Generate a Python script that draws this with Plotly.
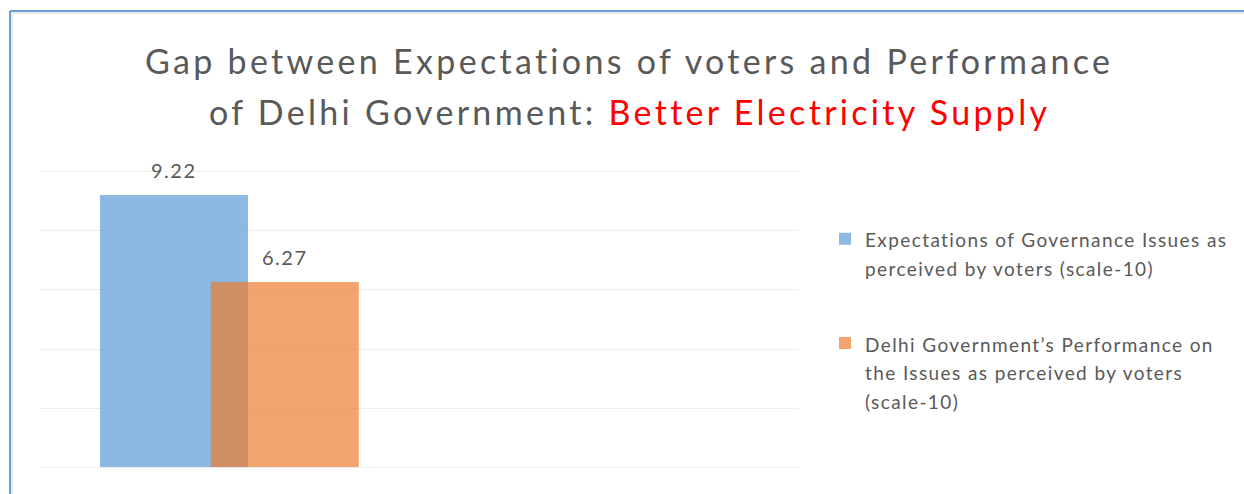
import plotly.graph_objects as go

# Scores on a 10-point scale
category = ["Better Electricity Supply"]
series_names = [
    ["Expectations of Governance Issues as", "perceived by voters (scale-10)"],
    ["Delhi Government’s Performance on", "the Issues as perceived by voters", "(scale-10)"],
]
expectations = [9.22]
performance = [6.27]
y_ticks = [0, 2, 4, 6, 8, 10]

W, H = 1244, 494
PL, PR, PT, PB = 40, 800, 172, 467  # value axis: 10 at PT, 0 at PB
Y_PAD = 0.1  # small headroom so the 0 and 10 gridlines are drawn
UNIT = (PB - PT) / 10.0

def px_x(p):
    return (p - PL) / (PR - PL)

def px_y(p):
    top = PT - Y_PAD * UNIT
    bottom = PB + Y_PAD * UNIT
    return (bottom - p) / (bottom - top)

def spaced(text, spacing, size=None):
    style = f"letter-spacing:{spacing}px"
    if size:
        style += f";font-size:{size}px"
    return f"<span style='{style}'>{text}</span>"

BAR_W = 0.195
OFFSETS = [-0.421, -0.275]
COLORS = ["rgba(91,155,213,0.7)", "rgba(237,125,49,0.7)"]
TEXT = "#595959"
FONT = "Lato"

fig = go.Figure()
for lines, vals, off, col, grp in zip(series_names, [expectations, performance],
                                      OFFSETS, COLORS, ["a", "b"]):
    fig.add_trace(go.Bar(
        x=category, y=vals,
        name="<br>".join(spaced(t, 1.4, 19) for t in lines),
        offset=off, width=BAR_W,
        marker=dict(color=col, line=dict(width=0)),
        legendgroup=grp, hoverinfo="skip",
    ))
    for v in vals:
        fig.add_annotation(
            x=off + BAR_W / 2, y=v, xref="x", yref="y",
            text=spaced(f"{v:.2f}", 1.5),
            showarrow=False, yanchor="middle", yshift=25,
            font=dict(family=FONT, size=20, color=TEXT),
        )

# Two-line title, second half highlighted in red
title_lines = [
    spaced("Gap between Expectations of voters and Performance", 3.3),
    spaced("of Delhi Government: ", 3.3)
    + "<span style='color:#FF0000;letter-spacing:3.3px'>Better Electricity Supply</span>",
]
for txt, yc in zip(title_lines, [61, 112]):
    fig.add_annotation(
        x=px_x(630), y=px_y(yc), xref="paper", yref="paper", xanchor="center",
        yanchor="middle", showarrow=False, text=txt,
        font=dict(family=FONT, size=34, color=TEXT),
    )

# Frame around the chart
fig.add_shape(type="line", xref="paper", yref="paper",
              x0=px_x(10), x1=px_x(W + 5), y0=px_y(11), y1=px_y(11),
              line=dict(color="#6A9FD8", width=2))
fig.add_shape(type="line", xref="paper", yref="paper",
              x0=px_x(10), x1=px_x(10), y0=px_y(11), y1=px_y(H + 5),
              line=dict(color="#6A9FD8", width=2))
fig.add_shape(type="line", xref="paper", yref="paper",
              x0=px_x(12), x1=px_x(W + 5), y0=px_y(13), y1=px_y(13),
              line=dict(color="#E3E3E3", width=1.5))
fig.add_shape(type="line", xref="paper", yref="paper",
              x0=px_x(12), x1=px_x(12), y0=px_y(13), y1=px_y(H + 5),
              line=dict(color="#E3E3E3", width=1.5))

top_margin = PT - Y_PAD * UNIT
bottom_margin = H - (PB + Y_PAD * UNIT)

fig.update_layout(
    width=W, height=H,
    margin=dict(l=PL, r=W - PR, t=top_margin, b=bottom_margin, pad=0),
    paper_bgcolor="white", plot_bgcolor="white",
    barmode="overlay", showlegend=True,
    legend=dict(
        x=px_x(825), y=px_y(218), xanchor="left", yanchor="top",
        font=dict(family=FONT, size=22, color=TEXT),
        valign="top", tracegroupgap=44, itemwidth=30,
        bgcolor="rgba(0,0,0,0)",
    ),
    xaxis=dict(range=[-0.5, 0.5], showticklabels=False, showgrid=False,
               zeroline=False, showline=False, ticks=""),
    yaxis=dict(range=[-Y_PAD, 10 + Y_PAD], tickvals=y_ticks, showticklabels=False,
               showgrid=True, gridcolor="#EDEDED", gridwidth=1,
               zeroline=False, showline=False, ticks=""),
)

fig.write_html("out.html")
